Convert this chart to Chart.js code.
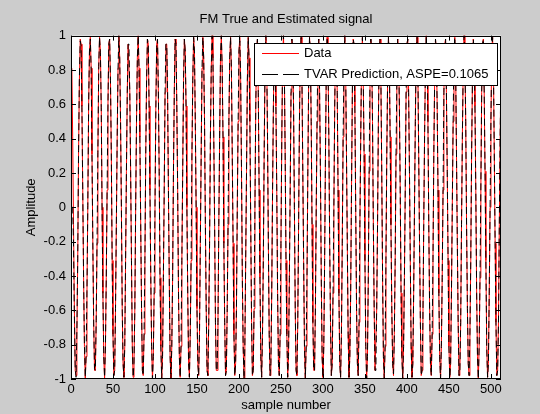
<!DOCTYPE html>
<html>
<head>
<meta charset="utf-8">
<title>FM True and Estimated signal</title>
<script src="https://cdn.jsdelivr.net/npm/chart.js@4.4.1/dist/chart.umd.min.js"></script>
<style>
    body { margin: 0; background: #cccccc; }
    #wrap { width: 540px; height: 414px; }
</style>
</head>
<body>
<div id="wrap"><canvas id="fmChart" width="540" height="414"></canvas></div>
<script>
// Values (sample 1..512)
const chartTitle = 'FM True and Estimated signal';
const xTitle = 'sample number';
const yTitle = 'Amplitude';
const dataLabel = 'Data';
const predLabel = 'TVAR Prediction, ASPE=0.1065';

const xTicks = [0, 50, 100, 150, 200, 250, 300, 350, 400, 450, 500];
const yTicks = [-1, -0.8, -0.6, -0.4, -0.2, 0, 0.2, 0.4, 0.6, 0.8, 1];
const yTickLabels = ['-1', '-0.8', '-0.6', '-0.4', '-0.2', '0', '0.2', '0.4', '0.6', '0.8', '1'];

const dataSignal = [
    .81,.41,-.10,-.59,-.95,-.98,-.74,-.31,.31,.74,.98,.95,.59,.10,-.41,-.81,-1,-.87,-.5,0,
    .59,.91,.99,.81,.31,-.21,-.67,-.95,-.95,-.67,-.21,.31,.81,.99,.91,.59,0,-.5,-.87,-1,
    -.81,-.41,.10,.59,.95,.98,.74,.31,-.31,-.74,-.98,-.95,-.59,-.10,.41,.81,1,.87,.5,0,
    -.59,-.91,-.99,-.81,-.31,.21,.67,.95,.95,.67,.21,-.31,-.81,-.99,-.91,-.59,0,.5,.87,1,
    .81,.41,-.10,-.59,-.95,-.98,-.74,-.31,.31,.74,.98,.95,.59,.10,-.41,-.81,-1,-.87,-.5,0,
    .59,.95,.98,.67,.21,-.41,-.81,-1,-.87,-.41,.10,.67,.95,.95,.67,.10,-.41,-.87,-1,-.81,
    -.41,.21,.67,.98,.95,.59,.10,-.5,-.87,-.99,-.81,-.31,.21,.74,.98,.91,.59,0,-.5,-.91,
    -.99,-.74,-.31,.31,.74,.99,.91,.5,0,-.59,-.91,-.98,-.74,-.21,.31,.81,.99,.87,.5,-.10,
    -.59,-.95,-.98,-.67,-.21,.41,.81,1,.87,.41,-.10,-.67,-.95,-.95,-.67,-.10,.41,.87,1,.81,
    .41,-.21,-.67,-.98,-.95,-.59,-.10,.5,.87,.99,.81,.31,-.21,-.74,-.98,-.91,-.59,0,.5,.91,
    .99,.74,.21,-.41,-.81,-1,-.81,-.31,.21,.74,.99,.87,.5,-.10,-.67,-.98,-.95,-.59,0,.59,
    .91,.98,.67,.10,-.41,-.87,-.99,-.74,-.31,.31,.81,1,.87,.41,-.21,-.74,-.98,-.91,-.5,.10,
    .59,.95,.95,.59,.10,-.5,-.91,-.98,-.74,-.21,.41,.87,1,.81,.31,-.31,-.74,-.99,-.87,-.41,
    .10,.67,.98,.91,.59,0,-.59,-.95,-.98,-.67,-.10,.5,.87,.99,.74,.21,-.31,-.81,-1,-.81,
    -.41,.21,.74,.99,.91,.5,-.10,-.67,-.95,-.95,-.59,0,.5,.91,.98,.67,.21,-.41,-.87,-.99,
    -.81,-.31,.31,.81,.99,.87,.41,-.21,-.67,-.98,-.91,-.5,0,.59,.95,.95,.67,.10,-.5,-.91,
    -.99,-.74,-.21,.41,.81,1,.81,.31,-.21,-.74,-.99,-.87,-.5,.10,.67,.98,.95,.59,0,-.59,
    -.91,-.98,-.67,-.10,.41,.87,.99,.74,.31,-.31,-.81,-1,-.87,-.41,.21,.74,.98,.91,.5,-.10,
    -.59,-.95,-.95,-.59,-.10,.5,.91,.98,.74,.21,-.41,-.87,-1,-.81,-.31,.31,.74,.99,.87,.41,
    -.10,-.59,-.91,-.98,-.74,-.31,.31,.74,.98,.91,.59,.10,-.5,-.87,-1,
    -.81,-.41,.10,.67,.95,.98,.67,.21,-.31,-.81,-.99,-.91,-.5,0,.5,
    .91,.99,.81,.31,-.21,-.67,-.98,-.95,-.67,-.10,.41,.81,1,.87,.5,
    -.10,-.59,-.91,-.98,-.74,-.31,.31,.74,.98,.91,.59,.10,-.5,-.87,-1,
    -.81,-.41,.10,.67,.95,.98,.67,.21,-.31,-.81,-.99,-.91,-.5,0,.5,
    .91,.99,.81,.31,-.21,-.67,-.98,-.95,-.67,-.10,.41,.81,1,.87,.5,
    -.10,-.59,-.91,-.98,-.74,-.31,.31,.74,.98,.91,.59,.10,-.5,-.87,-1,
    -.81,-.41,.10,.67,.95,.98,.67,.21,-.31,-.81,-.99,-.91,-.5,0,.5,
    .91,.99,.81,.31,-.21,-.67,-.98,-.95,-.67,-.10,.41,.81
];

const predSignal = [
    0,0,-.22,-.63,-.93,-.99,-.72,-.30,.33,.76,.97,.94,.58,.09,-.42,-.80,-.99,-.86,-.49,.01,
    .60,.91,.98,.80,.30,-.22,-.68,-.94,-.95,-.66,-.20,.32,.82,.99,.90,.58,-.01,-.51,-.87,-.99,
    -.81,-.41,.10,.59,.95,.98,.74,.31,-.31,-.74,-.98,-.95,-.59,-.10,.41,.81,1,.87,.5,0,
    -.59,-.91,-.99,-.81,-.31,.21,.67,.95,.95,.67,.21,-.31,-.81,-.99,-.91,-.59,0,.5,.87,1,
    .81,.41,-.10,-.59,-.95,-.98,-.74,-.31,.31,.74,.98,.95,.59,.10,-.41,-.81,-1,-.87,-.5,0,
    .55,.93,.98,.69,.21,-.41,-.81,-1,-.87,-.41,.10,.67,.95,.95,.67,.10,-.41,-.87,-1,-.81,
    -.41,.21,.67,.98,.95,.59,.10,-.5,-.87,-.99,-.81,-.31,.21,.74,.98,.91,.59,0,-.5,-.91,
    -.99,-.74,-.31,.31,.74,.99,.91,.5,0,-.59,-.91,-.98,-.74,-.21,.31,.81,.99,.87,.5,-.10,
    -.59,-.95,-.98,-.67,-.21,.41,.81,1,.87,.41,-.10,-.67,-.95,-.95,-.67,-.10,.41,.87,1,.81,
    .41,-.21,-.67,-.98,-.95,-.59,-.10,.5,.87,.99,.81,.31,-.21,-.74,-.98,-.91,-.59,0,.5,.91,
    .97,.76,.23,-.41,-.81,-1,-.81,-.31,.21,.74,.99,.87,.5,-.10,-.67,-.98,-.95,-.59,0,.59,
    .91,.98,.67,.10,-.41,-.87,-.99,-.74,-.31,.31,.81,1,.87,.41,-.21,-.74,-.98,-.91,-.5,.10,
    .59,.95,.95,.59,.10,-.5,-.91,-.98,-.74,-.21,.41,.87,1,.81,.31,-.31,-.74,-.99,-.87,-.41,
    .10,.67,.98,.91,.59,0,-.59,-.95,-.98,-.67,-.10,.5,.87,.99,.74,.21,-.31,-.81,-1,-.81,
    -.41,.21,.74,.99,.91,.5,-.10,-.67,-.95,-.95,-.59,0,.5,.91,.98,.67,.21,-.41,-.87,-.99,
    -.81,-.31,.31,.81,.99,.87,.41,-.21,-.67,-.98,-.91,-.5,0,.59,.95,.95,.67,.10,-.5,-.91,
    -.99,-.74,-.21,.41,.81,1,.81,.31,-.21,-.74,-.99,-.87,-.5,.10,.67,.98,.95,.59,0,-.59,
    -.91,-.98,-.67,-.10,.41,.87,.99,.74,.31,-.31,-.81,-1,-.87,-.41,.21,.74,.98,.91,.5,-.10,
    -.59,-.95,-.95,-.59,-.10,.5,.91,.98,.74,.21,-.41,-.87,-1,-.81,-.31,.31,.74,.99,.87,.41,
    -.14,-.61,-.91,-.97,-.74,-.31,.31,.74,.98,.91,.59,.10,-.5,-.87,-1,
    -.81,-.41,.10,.67,.95,.98,.67,.21,-.31,-.81,-.99,-.91,-.5,0,.5,
    .91,.99,.81,.31,-.21,-.67,-.98,-.95,-.67,-.10,.41,.81,1,.87,.5,
    -.10,-.59,-.91,-.98,-.74,-.31,.31,.74,.98,.91,.59,.10,-.5,-.87,-1,
    -.81,-.41,.10,.67,.95,.98,.67,.21,-.31,-.81,-.99,-.91,-.5,0,.5,
    .91,.99,.81,.31,-.21,-.67,-.98,-.95,-.67,-.10,.41,.81,1,.87,.5,
    -.10,-.59,-.91,-.98,-.74,-.31,.31,.74,.98,.91,.59,.10,-.5,-.87,-1,
    -.81,-.41,.10,.67,.95,.98,.67,.21,-.31,-.81,-.99,-.91,-.5,0,.5,
    .91,.99,.81,.31,-.21,-.67,-.98,-.95,-.67,-.10,.41,.81
];

const dataColor = '#ff0000';
const predColor = '#000000';
const fontFamily = 'Arial, "Liberation Sans", Helvetica, sans-serif';
const fontSize = 13;

// sample n -> (n, value)
function toPoints(values) {
    return values.map(function(v, i) { return { x: i + 1, y: v }; });
}

// MATLAB-style axes: white box, inward ticks, legend inside
const matlabAxes = {
    id: 'matlabAxes',
    beforeDraw(chart) {
        const { ctx, chartArea: a } = chart;
        ctx.save();
        ctx.fillStyle = '#ffffff';
        ctx.fillRect(a.left, a.top, a.right - a.left, a.bottom - a.top);
        ctx.restore();
    },
    afterDatasetsDraw(chart) {
        const { ctx, chartArea: a, scales } = chart;
        const tick = 5;
        ctx.save();
        ctx.strokeStyle = '#000000';
        ctx.lineWidth = 1;
        ctx.beginPath();
        scales.x.ticks.forEach(function(t) {
            const px = Math.round(scales.x.getPixelForValue(t.value)) + 0.5;
            ctx.moveTo(px, a.bottom); ctx.lineTo(px, a.bottom - tick);
            ctx.moveTo(px, a.top); ctx.lineTo(px, a.top + tick);
        });
        scales.y.ticks.forEach(function(t) {
            const py = Math.round(scales.y.getPixelForValue(t.value)) + 0.5;
            ctx.moveTo(a.left, py); ctx.lineTo(a.left + tick, py);
            ctx.moveTo(a.right, py); ctx.lineTo(a.right - tick, py);
        });
        ctx.stroke();
        ctx.strokeRect(Math.round(a.left) + 0.5, Math.round(a.top) + 0.5,
            Math.round(a.right - a.left) - 1, Math.round(a.bottom - a.top) - 1);

        // legend box
        const bx = Math.round(a.right) - 247, by = Math.round(a.top) + 7, bw = 243, bh = 42;
        ctx.fillStyle = '#ffffff';
        ctx.fillRect(bx, by, bw, bh);
        ctx.strokeStyle = '#000000';
        ctx.strokeRect(bx + 0.5, by + 0.5, bw, bh);
        ctx.font = fontSize + 'px ' + fontFamily;
        ctx.textBaseline = 'middle';
        const entries = [
            { label: dataLabel, color: dataColor, dash: [] },
            { label: predLabel, color: predColor, dash: [16, 5] }
        ];
        entries.forEach(function(e, i) {
            const ly = by + 10 + i * 21 + 0.5;
            ctx.beginPath();
            ctx.lineWidth = 1;
            ctx.strokeStyle = e.color;
            ctx.setLineDash(e.dash);
            ctx.moveTo(bx + 8, ly);
            ctx.lineTo(bx + 45, ly);
            ctx.stroke();
            ctx.setLineDash([]);
            ctx.fillStyle = '#000000';
            ctx.fillText(e.label, bx + 50, ly);
        });
        ctx.restore();
    }
};

function drawChart() {
    const ctx = document.getElementById('fmChart');
    const tickFont = { family: fontFamily, size: fontSize };
    new Chart(ctx, {
        type: 'line',
        data: {
            datasets: [{
                label: dataLabel,
                data: toPoints(dataSignal),
                borderColor: dataColor,
                borderWidth: 1,
                pointRadius: 0,
                tension: 0,
                order: 2
            }, {
                label: predLabel,
                data: toPoints(predSignal),
                borderColor: predColor,
                borderWidth: 1,
                borderDash: [7, 4],
                pointRadius: 0,
                tension: 0,
                order: 1
            }]
        },
        options: {
            responsive: false,
            animation: false,
            layout: { padding: { left: 0, right: 39, top: 0, bottom: 0 } },
            plugins: {
                legend: { display: false },
                tooltip: { enabled: false },
                title: {
                    display: true,
                    text: chartTitle,
                    color: '#000000',
                    fullSize: false,
                    font: { family: fontFamily, size: fontSize, weight: 'normal' },
                    padding: { top: 12, bottom: 8 }
                }
            },
            scales: {
                x: {
                    type: 'linear',
                    min: 0,
                    max: 512,
                    afterBuildTicks: function(s) { s.ticks = xTicks.map(function(v) { return { value: v }; }); },
                    afterFit: function(s) { s.height = 35; },
                    grid: { display: false, drawTicks: false },
                    border: { display: false },
                    ticks: {
                        color: '#000000', font: tickFont, padding: 3,
                        maxRotation: 0, autoSkip: false,
                        callback: function(v) { return String(v); }
                    },
                    title: {
                        display: true, text: xTitle, color: '#000000', font: tickFont,
                        padding: { top: 0, bottom: 1 }
                    }
                },
                y: {
                    type: 'linear',
                    min: -1,
                    max: 1,
                    afterBuildTicks: function(s) { s.ticks = yTicks.map(function(v) { return { value: v }; }); },
                    afterFit: function(s) { s.width = 71; },
                    grid: { display: false, drawTicks: false },
                    border: { display: false },
                    ticks: {
                        color: '#000000', font: tickFont, padding: 5, autoSkip: false,
                        callback: function(v) { return yTickLabels[yTicks.indexOf(v)]; }
                    },
                    title: {
                        display: true, text: yTitle, color: '#000000', font: tickFont,
                        padding: { top: 24, bottom: 0 }
                    }
                }
            }
        },
        plugins: [matlabAxes]
    });
}

document.addEventListener('DOMContentLoaded', function() {
    drawChart();
});
</script>
</body>
</html>
